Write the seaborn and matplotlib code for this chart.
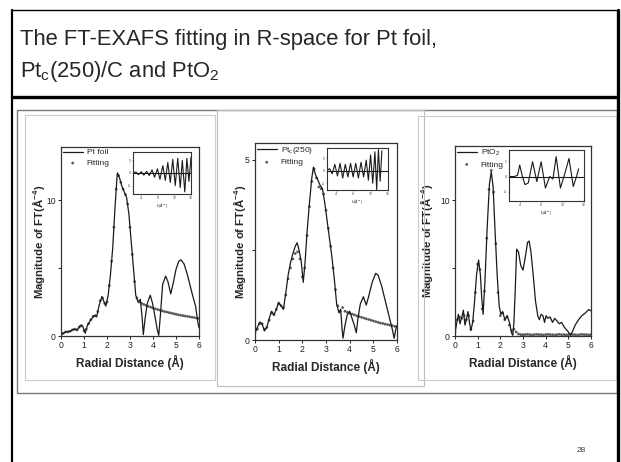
import pandas as pd
import matplotlib.pyplot as plt
import seaborn as sns
from matplotlib.patches import Rectangle
from matplotlib.lines import Line2D

W, H = 621, 462

# ---- data ----
# Pt foil: measured |FT| and fitted points
foil_r = [0.0, 0.2, 0.4, 0.55, 0.7, 0.85, 0.95, 1.05, 1.15, 1.3, 1.45, 1.55, 1.65, 1.78, 1.85, 1.95,
          2.05, 2.15, 2.25, 2.35, 2.45, 2.55, 2.65, 2.75, 2.85, 2.95, 3.05, 3.15, 3.25, 3.35, 3.45,
          3.52, 3.58, 3.65, 3.75, 3.88, 3.98, 4.08, 4.18, 4.25, 4.32, 4.42, 4.55, 4.65, 4.77, 4.88,
          5.0, 5.12, 5.22, 5.35, 5.48, 5.6, 5.72, 5.85, 5.95, 6.0]
foil_mag = [0.1, 0.3, 0.35, 0.5, 0.45, 0.8, 0.7, 0.2, 0.8, 1.2, 1.5, 1.4, 2.2, 2.9, 2.6, 2.2,
            3.0, 4.5, 6.5, 9.5, 12.0, 11.6, 11.0, 10.6, 10.2, 9.0, 7.0, 5.0, 3.0, 2.5, 2.7,
            1.5, 0.1, 1.2, 2.4, 3.0, 2.4, 1.5, 0.5, 0.05, 1.5, 3.8, 4.4, 4.0, 3.1, 3.9,
            4.9, 5.5, 5.6, 5.3, 4.6, 3.8, 3.0, 2.2, 1.0, 0.6]

fit_r = [0.0, 0.1, 0.2, 0.3, 0.4, 0.5, 0.6, 0.7, 0.8, 0.9, 1.0, 1.1, 1.2, 1.3, 1.4, 1.5, 1.6, 1.7,
         1.8, 1.9, 2.0, 2.1, 2.2, 2.3, 2.4, 2.5, 2.6, 2.7, 2.8, 2.9, 3.0, 3.1, 3.2, 3.3, 3.4, 3.5,
         3.6, 3.7, 3.8, 3.9, 4.0, 4.1, 4.2, 4.3, 4.4, 4.5, 4.6, 4.7, 4.8, 4.9, 5.0, 5.1, 5.2, 5.3,
         5.4, 5.5, 5.6, 5.7, 5.8, 5.9, 6.0]
foil_fit = [0.1, 0.2, 0.3, 0.3, 0.35, 0.45, 0.5, 0.45, 0.65, 0.75, 0.4, 0.5, 0.9, 1.2, 1.45, 1.5,
            1.8, 2.6, 2.8, 2.4, 2.5, 3.7, 5.5, 8.0, 10.8, 11.8, 11.3, 10.8, 10.4, 9.7, 8.0, 6.0,
            4.0, 2.8, 2.5, 2.4, 2.32, 2.25, 2.18, 2.12, 2.06, 2.0, 1.95, 1.9, 1.85, 1.8, 1.76,
            1.72, 1.68, 1.64, 1.6, 1.56, 1.53, 1.5, 1.47, 1.44, 1.41, 1.38, 1.35, 1.32, 1.3]

# Pt_c(250)/C
ptc_r = [0.0, 0.1, 0.2, 0.3, 0.4, 0.5, 0.6, 0.7, 0.8, 0.9, 1.0, 1.1, 1.2, 1.3, 1.4, 1.5, 1.6, 1.7,
         1.78, 1.86, 1.95, 2.04, 2.12, 2.2, 2.3, 2.4, 2.47, 2.55, 2.65, 2.75, 2.85, 2.95, 3.05,
         3.15, 3.25, 3.35, 3.45, 3.55, 3.62, 3.68, 3.72, 3.8, 3.9, 4.0, 4.1, 4.2, 4.28, 4.35,
         4.45, 4.58, 4.7, 4.8, 4.95, 5.1, 5.2, 5.35, 5.5, 5.65, 5.8, 5.88, 5.95, 6.0]
ptc_mag = [0.2, 0.35, 0.5, 0.45, 0.25, 0.35, 0.6, 0.8, 0.7, 0.85, 1.05, 0.95, 0.85, 1.3, 1.8, 2.15,
           2.4, 2.6, 2.7, 2.5, 2.2, 1.6, 2.2, 3.0, 3.8, 4.5, 4.8, 4.6, 4.45, 4.3, 4.2, 3.8, 3.3,
           2.8, 2.3, 1.7, 1.0, 0.75, 0.85, 0.3, 0.05, 0.4, 0.7, 0.8, 0.6, 0.4, 0.2, 0.6,
           1.0, 1.2, 0.97, 1.2, 1.6, 1.85, 1.8, 1.5, 1.1, 0.7, 0.3, 0.05, 0.3, 0.4]
ptc_fit = [0.2, 0.3, 0.45, 0.45, 0.3, 0.35, 0.55, 0.75, 0.7, 0.85, 1.0, 0.95, 0.9, 1.25, 1.7, 2.0,
           2.25, 2.4, 2.45, 2.25, 1.75, 2.0, 2.9, 3.7, 4.4, 4.75, 4.5, 4.25, 4.2, 4.05, 3.6, 3.1,
           2.6, 2.0, 1.4, 0.95, 0.8, 0.9, 0.8, 0.77, 0.74, 0.72, 0.7, 0.67, 0.65, 0.63, 0.61,
           0.59, 0.57, 0.55, 0.53, 0.51, 0.49, 0.47, 0.46, 0.44, 0.43, 0.41, 0.4, 0.38, 0.37]

# PtO2
oxide_r = [0.0, 0.08, 0.15, 0.22, 0.3, 0.37, 0.44, 0.5, 0.57, 0.63, 0.7, 0.78, 0.86, 0.95, 1.04,
           1.12, 1.18, 1.24, 1.32, 1.42, 1.52, 1.6, 1.68, 1.76, 1.86, 1.95, 2.02, 2.1, 2.2, 2.3,
           2.4, 2.5, 2.55, 2.6, 2.66, 2.72, 2.8, 2.9, 3.0, 3.1, 3.2, 3.27, 3.35, 3.45, 3.55, 3.65,
           3.72, 3.8, 3.88, 3.95, 4.02, 4.1, 4.2, 4.3, 4.4, 4.5, 4.6, 4.7, 4.8, 4.9, 5.0, 5.1,
           5.2, 5.3, 5.45, 5.6, 5.75, 5.9, 6.0]
oxide_mag = [0.2, 1.0, 1.6, 0.9, 1.4, 1.9, 0.8, 1.2, 1.8, 1.1, 0.4, 1.0, 2.5, 4.5, 5.6,
             4.5, 2.8, 1.6, 4.0, 8.0, 11.2, 12.1, 11.0, 8.0, 4.5, 2.2, 1.6, 1.8, 1.2, 1.5,
             1.0, 0.2, 0.05, 1.0, 3.5, 6.4, 6.2, 5.2, 4.85, 5.8, 6.9, 7.0, 6.2, 4.5, 2.6, 1.5,
             1.2, 1.6, 1.5, 1.0, 1.5, 1.3, 1.4, 1.0, 1.3, 1.1, 0.9, 1.0, 0.7, 0.5, 0.3, 0.05,
             0.4, 0.8, 1.2, 1.5, 1.7, 1.95, 1.85]
oxide_fit = [0.3, 1.2, 1.4, 1.3, 1.5, 1.2, 1.5, 0.5, 1.1, 3.2, 5.3, 4.9, 2.0, 3.3, 7.2, 10.8,
             12.2, 10.6, 6.8, 3.2, 1.5, 1.7, 1.2, 1.4, 0.8, 0.4, 0.5, 0.3, 0.15, 0.1, 0.1,
             0.1, 0.12, 0.1, 0.08, 0.1, 0.12, 0.1, 0.1, 0.08, 0.1, 0.12, 0.1, 0.1, 0.08, 0.1,
             0.12, 0.1, 0.1, 0.08, 0.1, 0.12, 0.1, 0.1, 0.08, 0.1, 0.12, 0.1, 0.1, 0.08, 0.1]

# insets: k-space oscillations (peaks / troughs)
foil_k = [2, 2.7, 3.3, 4.0, 4.6, 5.3, 5.9, 6.6, 7.2, 7.9, 8.5, 9.2, 9.8, 10.4, 11.0, 11.6,
          12.2, 12.8, 13.4, 13.9, 14.5, 15.0, 15.5, 16.0]
foil_chi = [0.0, 0.05, -0.08, 0.06, -0.1, 0.08, -0.12, 0.15, -0.2, 0.2, -0.3, 0.35, -0.35, 0.5,
            -0.45, 0.65, -0.6, 0.7, -0.7, 0.6, -0.9, 0.7, -0.4, 0.75]
ptc_k = [2, 2.6, 3.2, 3.8, 4.4, 5.0, 5.6, 6.2, 6.8, 7.4, 8.0, 8.6, 9.2, 9.8, 10.4, 11.0, 11.5,
         12.0, 12.5, 13.0, 13.4, 13.8, 14.2, 14.6]
ptc_chi = [0.0, 0.1, -0.15, 0.3, -0.25, 0.35, -0.35, 0.3, -0.3, 0.35, -0.3, 0.35, -0.35, 0.4,
           -0.3, 0.5, -0.45, 0.75, -0.6, 0.9, -0.9, 1.0, -0.5, 0.95]
oxide_k = [2.0, 3.0, 3.6, 4.0, 4.5, 5.0, 5.6, 6.4, 7.2, 8.0, 8.8, 9.6, 10.2, 10.8, 11.6, 12.4,
           13.2, 14.0, 14.6, 15.0]
oxide_chi = [0.0, 0.0, 0.05, 0.45, 0.0, -0.32, -0.25, 0.58, -0.2, 0.58, -0.45, 0.0, -0.1, 0.78,
             -0.45, 0.1, 0.71, -0.39, 0.0, 0.3]

r_ticks = [0, 1, 2, 3, 4, 5, 6]
inset_yticks = [-0.6, 0, 0.6]
inset_ytl = ['-5', '0', '5']
inset_xticks = [4, 8, 12, 16]

sns.set_style("white")
plt.rcParams['font.family'] = ['Liberation Sans', 'DejaVu Sans']
plt.rcParams['mathtext.default'] = 'regular'

fig = plt.figure(figsize=(W / 100, H / 100), dpi=100)


def box(x0, y0, x1, y1):
    return [x0 / W, 1 - y1 / H, (x1 - x0) / W, (y1 - y0) / H]


def fline(x0, y0, x1, y1, **kw):
    fig.add_artist(Line2D([x0 / W, x1 / W], [1 - y0 / H, 1 - y1 / H], **kw))


def frect(x0, y0, x1, y1, **kw):
    fig.add_artist(Rectangle((x0 / W, 1 - y1 / H), (x1 - x0) / W, (y1 - y0) / H,
                             fill=False, **kw))


# slide frame
fline(12, 10, 12, 462, color='black', lw=1.6)
fline(12, 10, 618, 10, color='black', lw=1.0)
fline(618, 10, 618, 462, color='black', lw=2.4)
fline(12, 97, 618, 97, color='black', lw=2.4)

fig.text(20 / W, 1 - 45 / H, 'The FT-EXAFS fitting in R-space for Pt foil,', fontsize=15.8,
         va='baseline')
fig.text(20 / W, 1 - 77 / H, 'Pt$_c$(250)/C and PtO$_2$', fontsize=15.8, va='baseline')

# picture frames
frect(17, 110, 617, 393, ec='#7a7a7a', lw=1.0)
frect(25, 115, 215, 380, ec='#cccccc', lw=0.8)
frect(217, 110, 424, 386, ec='#bdbdbd', lw=0.8)
frect(418, 116, 616, 380, ec='#cccccc', lw=0.8)

fig.text(581 / W, 1 - 450 / H, '28', fontsize=6, color='#404040', ha='center', va='center')

panels = [
    dict(ax=(61, 147, 199, 336), r=foil_r, mag=foil_mag, fit=foil_fit, name='Pt foil',
         ymax=13.9, yt=[0, 5, 10], ytl=['0', '', '10'], ylx=-0.105, xly=-0.10,
         inset=(133, 152, 191, 194), k=foil_k, chi=foil_chi, iylim=(-1, 1)),
    dict(ax=(255, 143, 397, 340), r=ptc_r, mag=ptc_mag, fit=ptc_fit, name='Pt$_c$(250)',
         ymax=5.47, yt=[0, 2.5, 5], ytl=['0', '', '5'], ylx=-0.048, xly=-0.096,
         inset=(327, 148, 388, 190), k=ptc_k, chi=ptc_chi, iylim=(-0.92, 1.08)),
    dict(ax=(455, 146, 591, 336), r=oxide_r, mag=oxide_mag, fit=oxide_fit, name='PtO$_2$',
         ymax=14.0, yt=[0, 5, 10], ytl=['0', '', '10'], ylx=-0.15, xly=-0.10,
         inset=(509, 150, 584, 201), k=oxide_k, chi=oxide_chi, iylim=(-0.96, 1.04)),
]

for p in panels:
    ax = fig.add_axes(box(*p['ax']))
    sns.lineplot(x=p['r'], y=p['mag'], ax=ax, color='#1a1a1a', lw=0.9, sort=False,
                 label=p['name'])
    sns.scatterplot(x=fit_r, y=p['fit'], ax=ax, color='#5a5a5a', s=4, edgecolor='none',
                    label='Fitting')
    ax.set_xlim(0, 6)
    ax.set_ylim(0, p['ymax'])
    ax.set_xticks(r_ticks)
    ax.set_yticks(p['yt'])
    ax.set_yticklabels(p['ytl'])
    ax.tick_params(direction='out', length=2.5, width=0.7, pad=1.2, labelsize=6.2,
                   colors='#222222', bottom=True, left=True)
    for s in ax.spines.values():
        s.set_color('#333333')
        s.set_linewidth(0.9)
    ax.set_xlabel('Radial Distance (Å)', fontsize=8.5, fontweight='bold')
    ax.set_ylabel('Magnitude of FT(Å$^{-4}$)', fontsize=8.2, fontweight='bold')
    ax.xaxis.set_label_coords(0.5, p['xly'])
    ax.yaxis.set_label_coords(p['ylx'], 0.5)
    ax.legend(loc='upper left', bbox_to_anchor=(0, 1), frameon=False, fontsize=6,
              handlelength=2.4, handletextpad=0.5, borderaxespad=0, borderpad=0.2,
              labelspacing=0.35, markerscale=1.0)

    ins = fig.add_axes(box(*p['inset']))
    sns.lineplot(x=p['k'], y=p['chi'], ax=ins, color='#1a1a1a', lw=0.8, sort=False)
    ins.axhline(0, color='#1a1a1a', lw=0.8)
    ins.set_xlim(p['k'][0], p['k'][-1])
    ins.set_ylim(*p['iylim'])
    ins.set_yticks(inset_yticks)
    ins.set_yticklabels(inset_ytl)
    ins.set_xticks(inset_xticks)
    ins.set_xticklabels([str(t) for t in inset_xticks])
    ins.tick_params(direction='out', length=1, width=0.4, pad=0.5, labelsize=2.5,
                    colors='#444444', bottom=True, left=True)
    ins.set_xlabel('k (Å$^{-1}$)', fontsize=2.5, labelpad=0.5)
    for s in ins.spines.values():
        s.set_color('#333333')
        s.set_linewidth(0.8)

fig.savefig('out.png', dpi=100)
